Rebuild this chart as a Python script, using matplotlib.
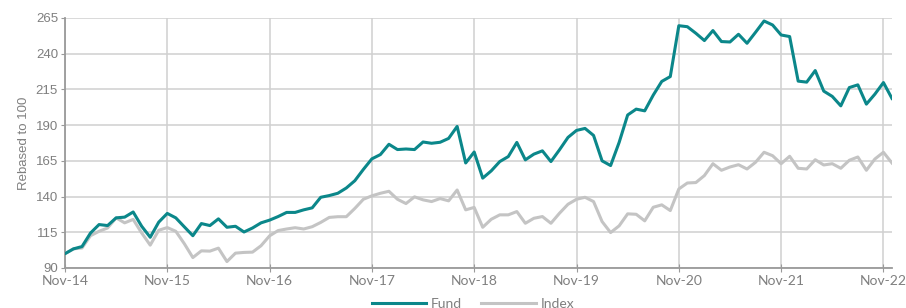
import matplotlib
matplotlib.use('Agg')
import matplotlib.pyplot as plt
import numpy as np

# monthly values, Nov-14 .. Dec-22, rebased to 100
fund = [100, 103.4, 105, 114.5, 120.4, 119.7, 125.1, 125.6, 129.2, 119.2, 111.5, 122.1,
        128.2, 125.1, 118.8, 112.6, 121.1, 119.7, 124.4, 118.5, 119.2, 115.2, 118, 121.6,
        123.5, 126, 128.9, 128.9, 130.7, 132.1, 139.5, 140.7, 142.3, 146, 151.1, 159,
        166.4, 169.4, 176.6, 172.9, 173.3, 172.9, 178.2, 177.3, 178, 180.7, 189.1, 163.5,
        171.2, 152.9, 158, 164.5, 168, 177.9, 165.7, 169.7, 172, 164.5, 172.7, 181.4,
        186.3, 187.7, 182.8, 165, 161.7, 177.9, 197.1, 201.2, 200, 211, 220.6, 224,
        259.6, 258.9, 254.3, 249.2, 256.2, 248.5, 248.2, 253.6, 247.3, 255, 262.9, 260.1,
        253.1, 252, 220.8, 220.1, 228.2, 213.8, 210.1, 203.5, 216.3, 218.2, 204.7, 211.7,
        219.8, 208.7]
index = [100, 103.4, 104, 112.6, 115.7, 118, 125.1, 121.6, 124, 114.5, 106, 116.4,
         118.3, 115.7, 107, 97.3, 102, 101.8, 103.9, 94.5, 100.4, 100.9, 101.1, 105.6,
         112.5, 116.2, 117.3, 118.2, 117.3, 118.9, 121.9, 125.4, 125.9, 125.9, 131.7, 138.1,
         140.5, 142.3, 143.7, 138.1, 135.1, 139.8, 137.7, 136.5, 138.6, 137, 144.6, 130.7,
         132.4, 118.5, 124.1, 127.2, 127.2, 129.5, 121.3, 124.8, 126, 121.3, 128.3, 134.6,
         138.1, 139.5, 136.5, 122.5, 114.8, 119.5, 127.9, 127.6, 123, 132.5, 134.2, 130.2,
         145.3, 149.5, 149.8, 154.7, 163, 158.4, 160.7, 162.3, 159.3, 164, 171, 168.6,
         163, 168.2, 159.8, 159.3, 165.8, 162.1, 163, 159.8, 165.4, 167.7, 158.4, 166.3,
         171, 163.5]
tick_labels = ['Nov-14', 'Nov-15', 'Nov-16', 'Nov-17', 'Nov-18', 'Nov-19',
               'Nov-20', 'Nov-21', 'Nov-22']
y_ticks = [90, 115, 140, 165, 190, 215, 240, 265]

teal = '#0b878a'
grey = '#c4c4c4'
axis_col = '#9a9a9a'
text_col = '#7f7f7f'

fig = plt.figure(figsize=(9.06, 3.08), dpi=100)
ax = fig.add_axes([0.0717, 0.1299, 0.9128, 0.8117])

x = np.arange(len(fund))
ax.plot(x, index, color=grey, lw=2.2, label='Index', zorder=3)
ax.plot(x, fund, color=teal, lw=2.2, label='Fund', zorder=4)

ax.set_xlim(0, len(fund) - 1)
ax.set_ylim(90, 265)
ax.set_xticks(np.arange(0, 97, 12))
ax.set_xticklabels(tick_labels, family='Lato', fontsize=10, color=text_col)
ax.set_yticks(y_ticks)
ax.set_yticklabels([str(v) for v in y_ticks], family='Liberation Sans', fontsize=9.5, color=text_col)
ax.grid(True, color='#d0d0d0', lw=1.1, zorder=0)
ax.set_axisbelow(True)

for s in ['top', 'right']:
    ax.spines[s].set_visible(False)
for s in ['left', 'bottom']:
    ax.spines[s].set_color(axis_col)
    ax.spines[s].set_linewidth(1.3)
ax.tick_params(axis='x', direction='inout', length=6, color=axis_col, pad=2)
ax.tick_params(axis='y', direction='out', length=3, color=axis_col, pad=2)

ax.set_ylabel('Rebased to 100', family='Liberation Sans', fontsize=9.5, color=text_col, labelpad=4)

# legend sits at the very bottom, partly cut like in the source image
h, l = ax.get_legend_handles_labels()
fig.legend(h[::-1], l[::-1], loc='center', bbox_to_anchor=(0.522, 0.012), ncol=2, frameon=False,
           handlelength=3.9, columnspacing=1.4, handletextpad=0.35,
           prop={'family': 'Lato', 'size': 10}, labelcolor=text_col)

fig.savefig('out.png', dpi=100)
